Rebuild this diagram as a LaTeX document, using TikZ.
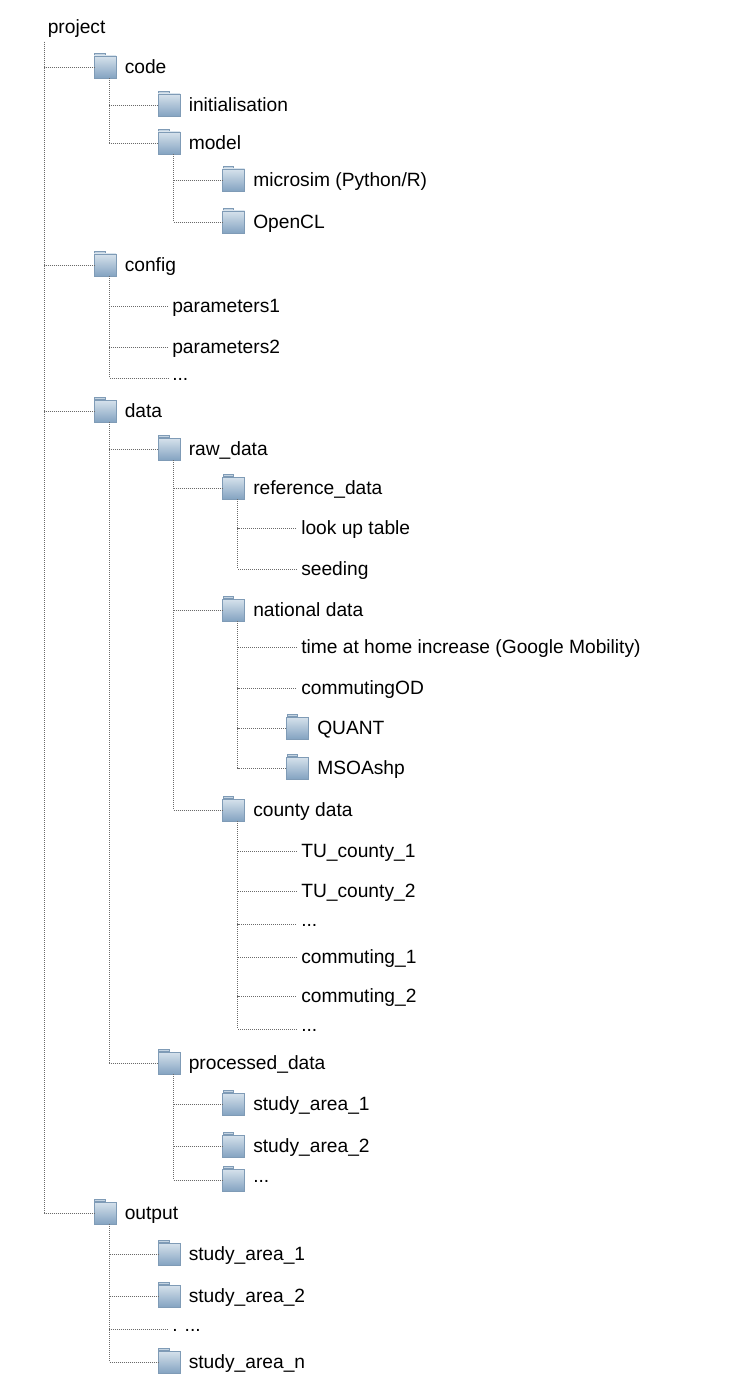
\documentclass[tikz,border=0pt]{standalone}
\usepackage{fontspec}
\setmainfont{Liberation Sans}
\tikzset{
  x=0.75pt,y=0.75pt,
  folderbox/.style={rectangle,inner sep=0pt,minimum width=16.5pt,minimum height=16.5pt,
    draw=folderedge,line width=0.5pt,top color=foldertop,bottom color=folderbottom,
    append after command={
      \pgfextra{\draw[draw=folderedge,line width=0.45pt,fill=foldertab]
        ([xshift=0.7pt]\tikzlastnode.north west) rectangle ([xshift=8.6pt,yshift=1.9pt]\tikzlastnode.north west);}
    }},
  labeltext/.style={anchor=west,inner ysep=0pt,inner xsep=3pt,font=\fontsize{14.4pt}{17pt}\selectfont,text=black},
  leaf/.style={labeltext,text height=12pt,text depth=3pt},
  foldername/.style={labeltext,inner xsep=0pt,text height=13pt,text depth=3pt},
  lowdots/.style={labeltext,text height=4.5pt,text depth=1.5pt},
  conn/.style={draw=connline,line width=0.5pt,dash pattern=on 0.75pt off 0.75pt},
}
\definecolor{folderedge}{HTML}{7F9BB6}
\definecolor{foldertop}{HTML}{D6E2EC}
\definecolor{folderbottom}{HTML}{84A3C1}
\definecolor{foldertab}{HTML}{C4D4E2}
\definecolor{connline}{HTML}{6A6A6A}
\newcommand{\fold}[5]{%
  \node[folderbox] (#1) at (#2,#3) {};
  \node[foldername] (#1label) at (#2+19.5,#3) {#4};}
\newcommand{\conn}[2]{\draw[conn] ([xshift=3.2pt]#1.south) |- (#2.west);}
\begin{document}
\begin{tikzpicture}
\useasboundingbox (0,0) rectangle (750,-1394);
\node[leaf] (project) at (43.5,-28) {project};
\coordinate (projecttrunk) at (44.5,-42);
% folders
\fold{code}{105}{-67}{code}{}
\fold{init}{169}{-105}{initialisation}{}
\fold{model}{169}{-143}{model}{}
\fold{microsim}{233.5}{-180}{microsim (Python/R)}{}
\fold{opencl}{233.5}{-222}{OpenCL}{}
\fold{config}{105}{-265}{config}{}
\node[leaf] (par1) at (168,-306.5) {parameters1};
\node[leaf] (par2) at (168,-347) {parameters2};
\node[lowdots] (pardots) at (168,-378) {...};
\fold{data}{105}{-411}{data}{}
\fold{raw}{169}{-449}{raw\_data}{}
\fold{reference}{233.5}{-488}{reference\_data}{}
\node[leaf] (lookup) at (297,-528) {look up table};
\node[leaf] (seeding) at (297,-569) {seeding};
\fold{national}{233.5}{-610}{national data}{}
\node[leaf] (time) at (297,-647) {time at home increase (Google Mobility)};
\node[leaf] (commod) at (297,-688) {commutingOD};
\fold{quant}{297.5}{-728}{QUANT}{}
\fold{msoa}{297.5}{-768}{MSOAshp}{}
\fold{county}{233.5}{-810}{county data}{}
\node[leaf] (tuone) at (297,-851) {TU\_county\_1};
\node[leaf] (tutwo) at (297,-891) {TU\_county\_2};
\node[lowdots] (cdotsa) at (297,-924) {...};
\node[leaf] (comone) at (297,-957) {commuting\_1};
\node[leaf] (comtwo) at (297,-996) {commuting\_2};
\node[lowdots] (cdotsb) at (297,-1029) {...};
\fold{processed}{169}{-1063}{processed\_data}{}
\fold{pone}{233.5}{-1104}{study\_area\_1}{}
\fold{ptwo}{233.5}{-1146}{study\_area\_2}{}
\node[folderbox] (pdots) at (233.5,-1180) {};
\node[foldername,text height=4.5pt,text depth=1.5pt] (pdotslabel) at (253,-1180) {...};
\fold{output}{105}{-1213}{output}{}
\fold{oone}{169}{-1254}{study\_area\_1}{}
\fold{otwo}{169}{-1296}{study\_area\_2}{}
\node[lowdots] (odots) at (168,-1329) {. ...};
\fold{on}{169}{-1362}{study\_area\_n}{}
% connectors
\foreach \c in {code,config,data,output}{\draw[conn] (projecttrunk) |- (\c.west);}
\foreach \c in {init,model}{\conn{code}{\c}}
\foreach \c in {microsim,opencl}{\conn{model}{\c}}
\foreach \c in {par1,par2,pardots}{\conn{config}{\c}}
\foreach \c in {raw,processed}{\conn{data}{\c}}
\foreach \c in {reference,national,county}{\conn{raw}{\c}}
\foreach \c in {lookup,seeding}{\conn{reference}{\c}}
\foreach \c in {time,commod,quant,msoa}{\conn{national}{\c}}
\foreach \c in {tuone,tutwo,cdotsa,comone,comtwo,cdotsb}{\conn{county}{\c}}
\foreach \c in {pone,ptwo,pdots}{\conn{processed}{\c}}
\foreach \c in {oone,otwo,odots,on}{\conn{output}{\c}}
\end{tikzpicture}
\end{document}
